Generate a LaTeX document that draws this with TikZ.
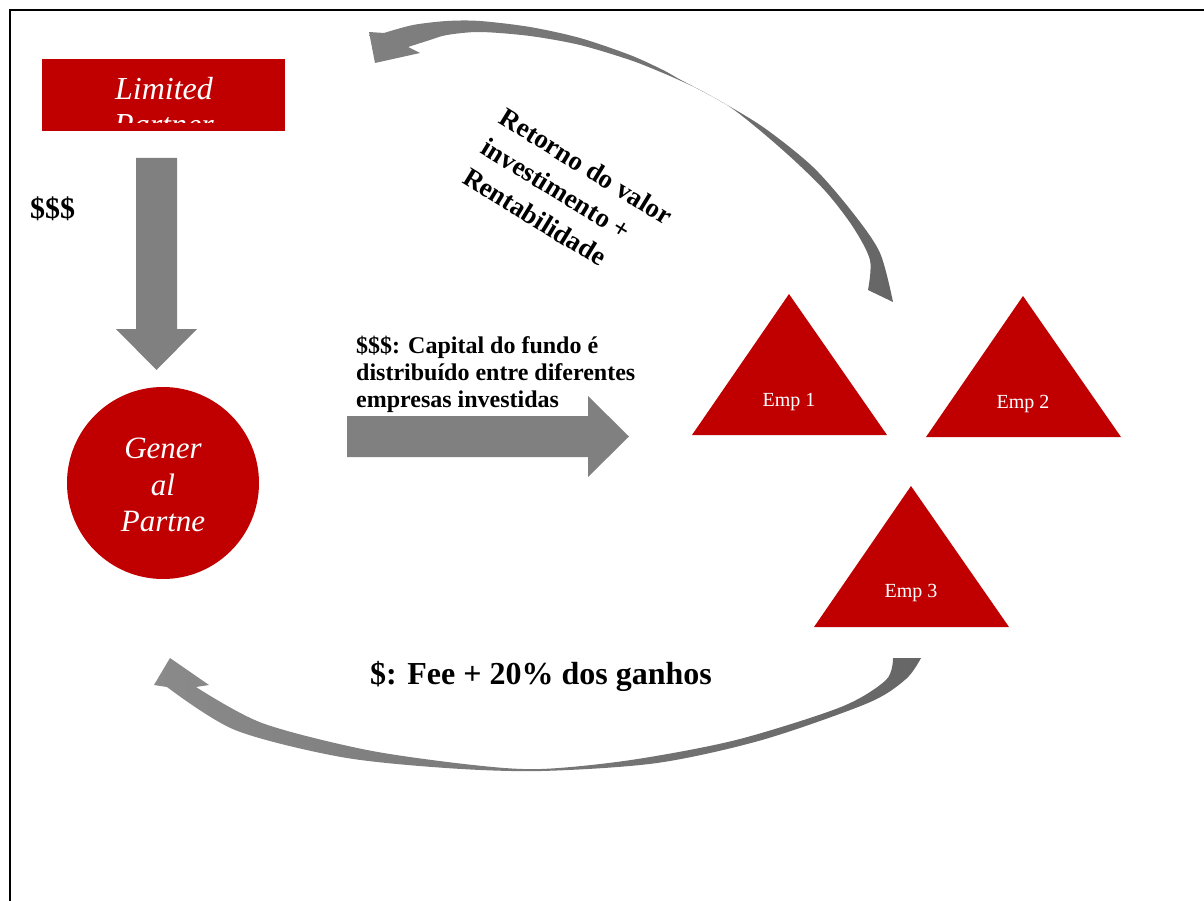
\documentclass[tikz,border=0pt]{standalone}
\usepackage{fontspec}
\setmainfont{Liberation Serif}
\definecolor{dred}{HTML}{C00000}
\definecolor{agray}{HTML}{808080}
\definecolor{dgray}{HTML}{666666}
\definecolor{lgray}{HTML}{8A8A8A}
\begin{document}
\begin{tikzpicture}[x=1pt,y=-1pt,
  blockarrow/.style={fill=agray, draw=none},
  redshape/.style={fill=dred, draw=none},
  whiteit/.style={text=white, inner sep=0pt, font=\fontsize{32}{36}\selectfont\itshape},
  gptext/.style={text=white, inner sep=0pt, align=center, font=\fontsize{31}{36.5}\selectfont\itshape},
  emplabel/.style={text=white, inner sep=0pt, font=\fontsize{20}{24}\selectfont},
  capline/.style={inner sep=0pt, anchor=base west, font=\fontsize{24}{27}\selectfont\bfseries},
  frame/.style={line width=2pt, draw=black}]
\useasboundingbox (0,0) rectangle (1204,901);

% frame
\draw[frame] (10,901) -- (10,10) -- (1204,10);

% Limited Partner box
\node[redshape, minimum width=243pt, minimum height=72pt, inner sep=0pt, anchor=north west] (lp) at (42,59) {};
\begin{scope}
  \clip (42,59) rectangle (285,123);
  \node[whiteit, anchor=base] (lpt1) at (164,100) {Limited};
  \node[whiteit, anchor=base] (lpt2) at (164,136) {Partner};
\end{scope}

% $$$ label
\node[inner sep=0pt, anchor=west, font=\fontsize{30}{34}\selectfont\bfseries] (ddd) at (30,209) {\$\$\$};

% down block arrow
\fill[blockarrow] (136,158) -- (177,158) -- (177,329) -- (197,329) -- (156.5,370) -- (116,329) -- (136,329) -- cycle;

% General Partner circle
\node[circle, redshape, minimum size=192pt, inner sep=0pt] (gp) at (163,483) {};
\node[gptext] (gpt) at (163,485) {Gener\\al\\Partne};

% right block arrow
\fill[blockarrow] (347,416) -- (588,416) -- (588,396) -- (629,436.5) -- (588,477) -- (588,457) -- (347,457) -- cycle;

% capital text
\node[capline] (c1) at (356,353) {\$\$\$: Capital do fundo é};
\node[capline] (c2) at (356,380) {distribuído entre diferentes};
\node[capline] (c3) at (356,407) {empresas investidas};

% triangles
\fill[dred] (789,294) -- (887,435) -- (692,435) -- cycle;
\fill[dred] (1023,296) -- (1121,437) -- (926,437) -- cycle;
\fill[dred] (911,486) -- (1009,627) -- (814,627) -- cycle;
\node[emplabel] (e1) at (789,402) {Emp 1};
\node[emplabel] (e2) at (1023,404) {Emp 2};
\node[emplabel] (e3) at (911,593) {Emp 3};

% top curved return arrow
\shade[left color=agray, right color=dgray]
  (369,32) -- (384,33)
  -- plot[smooth] coordinates {(384,33) (413,25) (447,21) (480,21) (530,27) (580,38) (630,55) (663,70) (680,79.5) (713,97) (763,127) (813,167) (853,213) (880,253) (893,302)}
  -- (868,290)
  -- plot[smooth] coordinates {(868,290) (870,260) (853,227) (827,193) (797,163) (763,133) (730,107) (697,88.5) (680,80.5) (663,73) (630,60) (580,45) (530,36) (480,32) (447,35) (430,40) (408,47)}
  -- (420,53) -- (375,63) -- cycle;

\node[inner sep=0pt, align=left, rotate=-31.5, font=\fontsize{27}{35}\selectfont\bfseries] (ret) at (568,196) {Retorno do valor\\investimento +\\Rentabilidade};

% bottom curved fee arrow
\shade[left color=lgray, right color=dgray]
  (170,658) -- (154,685) -- (167,687)
  -- plot[smooth] coordinates {(167,687) (235,730) (341,757) (446,768) (541,771) (657,763) (762,740) (868,703) (906,679) (921,658)}
  -- (893,658)
  -- plot[smooth] coordinates {(893,658) (886,680) (841,707) (736,740) (631,760) (541,769) (473,765) (367,750) (262,723) (196,687)}
  -- (209,685) -- cycle;

\node[inner sep=0pt, font=\fontsize{32}{36}\selectfont\bfseries] (fee) at (541,676) {\$: Fee + 20\% dos ganhos};
\end{tikzpicture}
\end{document}
